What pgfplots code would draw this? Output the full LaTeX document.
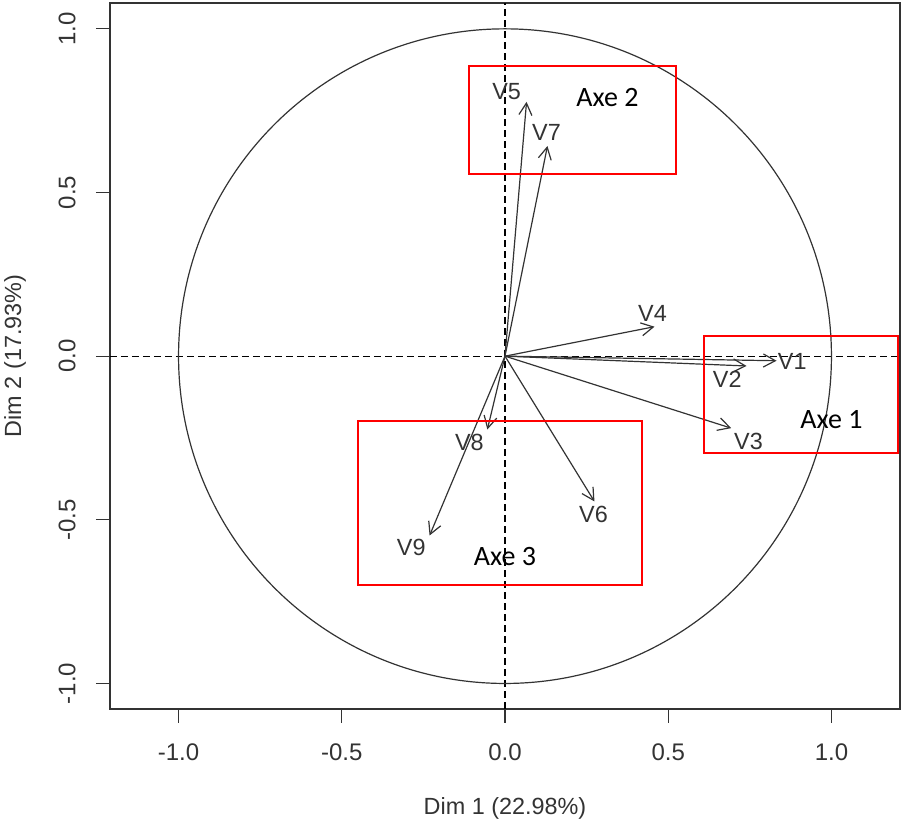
\documentclass[border=0pt]{standalone}
\usepackage{fontspec}
\setmainfont{Liberation Sans}
\newfontfamily\calibri{Carlito}
\usepackage{pgfplots}
\pgfplotsset{compat=1.18}
\usetikzlibrary{arrows.meta}
\definecolor{dk}{HTML}{333333}
\begin{document}
\begin{tikzpicture}
\useasboundingbox (-55pt,-57pt) rectangle (395.5pt,354.5pt);
\begin{axis}[
  at={(0,0)}, anchor=south west,
  scale only axis, width=395pt, height=353pt,
  xmin=-1.21, xmax=1.21, ymin=-1.078, ymax=1.079,
  axis line style={line width=0.6pt, dk},
  tick style={line width=0.6pt, dk},
  tick align=outside, major tick length=7pt,
  xtick={-1,-0.5,0,0.5,1}, ytick={-1,-0.5,0,0.5,1},
  xtick pos=bottom, ytick pos=left,
  /pgf/number format/.cd, fixed, fixed zerofill, precision=1, assume math mode=true, /pgfplots/.cd,
  ticklabel style={font=\fontsize{12}{14}\selectfont, text=dk},
  xticklabel style={anchor=center, yshift=-14.5pt},
  yticklabel style={xshift=-14.5pt, rotate=90, anchor=center},
  clip=false,
]
% dashed axes
\addplot[black, line width=0.6pt, dash pattern=on 3.5pt off 2pt] coordinates {(-1.21,0) (1.21,0)};
\addplot[black, line width=0.6pt, dash pattern=on 3.5pt off 2pt] coordinates {(0,-1.078) (0,1.079)};
% correlation circle
\draw[dk, line width=0.6pt] (axis cs:0,0) ellipse [x radius=1, y radius=1];
% variable arrows
\addplot[dk, line width=0.6pt, -{Straight Barb[length=6pt,width=6.5pt]},
  quiver={u=\thisrow{u}, v=\thisrow{v}}] table {
x y u v
0 0 0.832 -0.014
0 0 0.740 -0.030
0 0 0.693 -0.220
0 0 0.458 0.090
0 0 0.066 0.777
0 0 0.274 -0.444
0 0 0.130 0.642
0 0 -0.054 -0.224
0 0 -0.231 -0.548
};
% variable labels
\addplot[draw=none, mark=none, nodes near coords, point meta=explicit symbolic,
  every node near coord/.style={anchor=center, inner sep=0pt, font=\fontsize{11.7}{14}\selectfont, text=dk}]
  table[meta=lab] {
x y lab
0.880 -0.017 V1
0.681 -0.072 V2
0.746 -0.260 V3
0.452 0.130 V4
0.005 0.808 V5
0.271 -0.484 V6
0.127 0.682 V7
-0.109 -0.264 V8
-0.287 -0.585 V9
};
% red boxes
\draw[red, line width=1pt] (axis cs:-0.111,0.886) rectangle (axis cs:0.523,0.558);
\draw[red, line width=1pt] (axis cs:0.611,0.063) rectangle (axis cs:1.205,-0.295);
\draw[red, line width=1pt] (axis cs:-0.449,-0.197) rectangle (axis cs:0.421,-0.698);
\node[font=\calibri\fontsize{14}{16}\selectfont] at (axis cs:0.314,0.79) {Axe 2};
\node[font=\calibri\fontsize{14}{16}\selectfont] at (axis cs:1.0,-0.194) {Axe 1};
\node[font=\calibri\fontsize{14}{16}\selectfont] at (axis cs:0.0,-0.613) {Axe 3};
% axis titles
\node[yshift=-49.5pt, font=\fontsize{11.7}{14}\selectfont, text=dk] at (rel axis cs:0.5,0) {Dim 1 (22.98\%)};
\node[xshift=-47.5pt, rotate=90, font=\fontsize{11.7}{14}\selectfont, text=dk] at (rel axis cs:0,0.5) {Dim 2 (17.93\%)};
\end{axis}
\end{tikzpicture}
\end{document}
